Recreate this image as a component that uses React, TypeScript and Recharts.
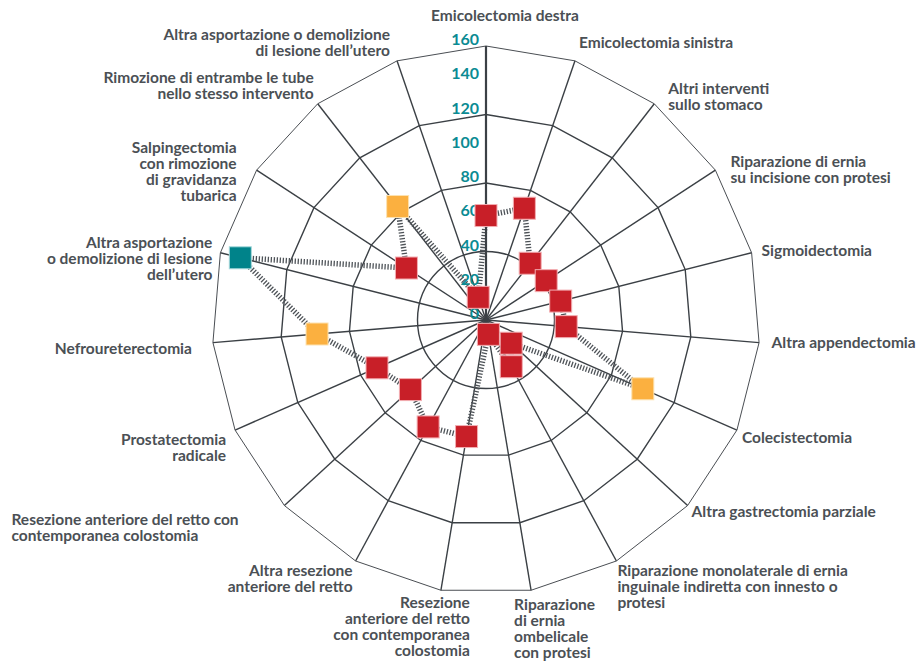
import React from "react";
import {
  PolarAngleAxis,
  PolarGrid,
  PolarRadiusAxis,
  Radar,
  RadarChart,
} from "recharts";

// interventi (in senso orario, partendo dall'alto)
const categories = [
  "Emicolectomia destra",
  "Emicolectomia sinistra",
  "Altri interventi\nsullo stomaco",
  "Riparazione di ernia\nsu incisione con protesi",
  "Sigmoidectomia",
  "Altra appendectomia",
  "Colecistectomia",
  "Altra gastrectomia parziale",
  "Riparazione monolaterale di ernia\ninguinale indiretta con innesto o\nprotesi",
  "Riparazione\ndi ernia\nombelicale\ncon protesi",
  "Resezione\nanteriore del retto\ncon contemporanea\ncolostomia",
  "Altra resezione\nanteriore del retto",
  "Resezione anteriore del retto con\ncontemporanea colostomia",
  "Prostatectomia\nradicale",
  "Nefroureterectomia",
  "Altra asportazione\no demolizione di lesione\ndell’utero",
  "Salpingectomia\ncon rimozione\ndi gravidanza\ntubarica",
  "Rimozione di entrambe le tube\nnello stesso intervento",
  "Altra asportazione o demolizione\ndi lesione dell’utero",
];

const values = [61, 69, 42, 42, 45, 47, 100, 20, 31, 8.5, 69, 71, 60, 69.5, 99, 148, 55.5, 84, 14];

// categoria del marcatore per ogni intervento
const markers = [
  "base", "base", "base", "base", "base", "base", "alto", "base", "base", "base",
  "base", "base", "base", "base", "alto", "max", "base", "alto", "base",
];

const radiusTicks = [0, 20, 40, 60, 80, 100, 120, 140, 160];

const W = 921;
const H = 663;
const CX = 486;
const CY = 320;
const R = 274;
const MAX = 160;
const rr = (v: number) => (v / MAX) * R;

const FONT = "Lato, 'Open Sans', sans-serif";
const GRID = "#3b4045";

const FILL: Record<string, string> = { base: "#c81f28", alto: "#fbb040", max: "#00838a" };
const EDGE: Record<string, string> = { base: "#f3aeb2", alto: "#fde2b0", max: "#a6d8db" };

// [anchor, dx, dy of first baseline] relative to the outer vertex
const LABEL_POS: [string, number, number][] = [
  ["middle", 19, -25],
  ["start", 4, -13],
  ["start", 14, -10],
  ["start", 15, -3.5],
  ["start", 10, 3.5],
  ["start", 12.5, 5.5],
  ["start", 5, 12.5],
  ["start", 4, 11],
  ["start", 1, 15.5],
  ["start", -17, 20],
  ["end", 29, 18],
  ["end", -3, 15.5],
  ["start", -273, 19.5],
  ["end", -9, 15],
  ["end", -21, 11.5],
  ["end", -8, -4.5],
  ["end", -20, -17.5],
  ["end", -4, -20.5],
  ["end", -7, -21],
];

const data = categories.map((name, i) => ({ name, value: values[i], marker: markers[i] }));

function AngleTick(props: any) {
  const { payload, index } = props;
  const a = (-payload.coordinate * Math.PI) / 180;
  const vx = CX + Math.cos(a) * R;
  const vy = CY + Math.sin(a) * R;
  const [anchor, dx, dy] = LABEL_POS[index] || ["middle", 0, 0];
  const lines = String(payload.value).split("\n");
  return (
    <text
      x={vx + dx}
      y={vy + dy}
      textAnchor={anchor as any}
      fill="#4b5055"
      fontSize={15.5}
      fontWeight={700}
      fontFamily={FONT}
    >
      {lines.map((l, k) => (
        <tspan key={k} x={vx + dx} dy={k === 0 ? 0 : 16}>
          {l}
        </tspan>
      ))}
    </text>
  );
}

function RadiusTick(props: any) {
  const { x, y, payload } = props;
  return (
    <text
      x={x - 7}
      y={y - 7.5}
      textAnchor="end"
      dominantBaseline="central"
      fill="#0b8b93"
      fontSize={16}
      fontWeight={700}
      fontFamily={FONT}
    >
      {payload.value}
    </text>
  );
}

function Square(props: any) {
  const { cx, cy, index } = props;
  const m = markers[index] || "base";
  return (
    <rect
      key={`sq-${index}`}
      x={cx - 11}
      y={cy - 11}
      width={22}
      height={22}
      fill={FILL[m]}
      stroke={EDGE[m]}
      strokeWidth={1}
    />
  );
}

export default function App() {
  return (
    <div style={{ position: "absolute", left: 0, top: 0, width: W, height: H, background: "#fff" }}>
      <RadarChart
        width={W}
        height={H}
        data={data}
        cx={CX}
        cy={CY}
        outerRadius={R}
        margin={{ top: 0, right: 0, bottom: 0, left: 0 }}
      >
        <PolarGrid gridType="circle" polarRadius={[rr(40)]} radialLines={false} stroke={GRID} strokeWidth={1.4} />
        <PolarGrid gridType="polygon" polarRadius={[rr(80), rr(120)]} stroke={GRID} strokeWidth={1.4} strokeOpacity={1} />
        <PolarGrid gridType="polygon" polarRadius={[rr(160)]} radialLines={false} stroke="#4a4e53" strokeWidth={1} />
        <PolarAngleAxis dataKey="name" tick={<AngleTick />} tickLine={false} axisLine={false} />
        <Radar
          dataKey="value"
          stroke="#4e5358"
          strokeWidth={5.5}
          strokeDasharray="1.3 1.7"
          fill="none"
          fillOpacity={0}
          dot={<Square />}
          isAnimationActive={false}
        />
        <PolarRadiusAxis
          angle={90}
          domain={[0, MAX]}
          ticks={radiusTicks as any}
          tickCount={9}
          tick={<RadiusTick />}
          tickLine={false}
          axisLine={{ stroke: GRID, strokeWidth: 2.2 }}
        />
      </RadarChart>
    </div>
  );
}
